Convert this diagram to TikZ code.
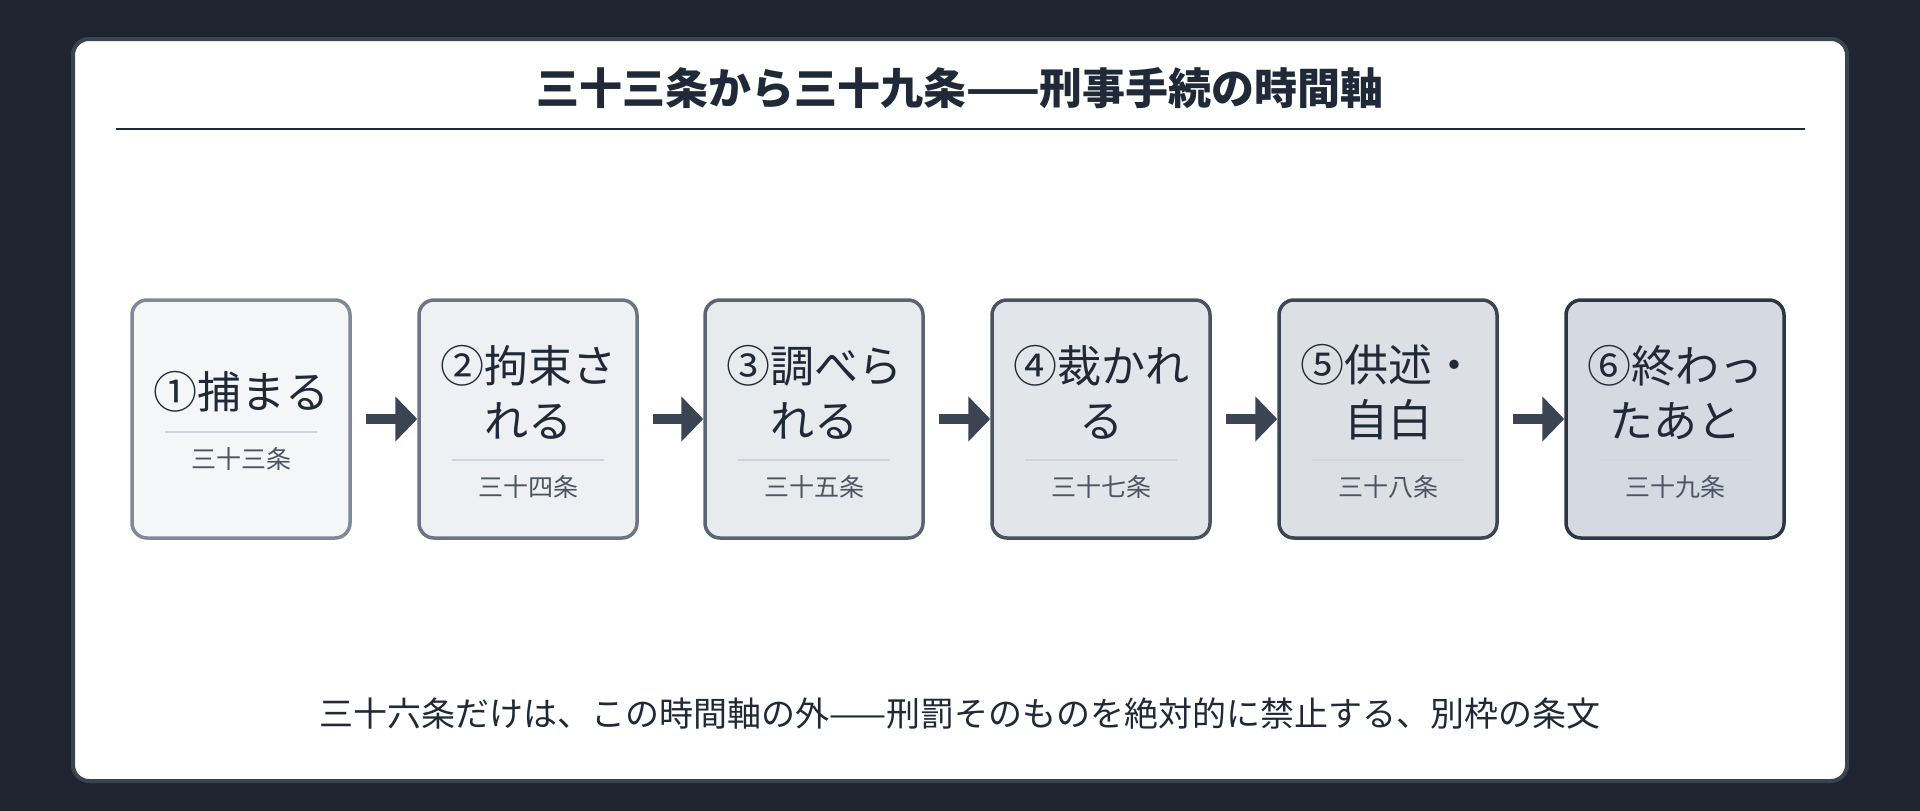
\documentclass[tikz,border=0pt]{standalone}
\usepackage{fontspec}
\setmainfont{Noto Sans CJK JP}
\usetikzlibrary{positioning,arrows.meta}
\definecolor{bgdark}{HTML}{1E2530}
\definecolor{cardedge}{HTML}{3A4350}
\definecolor{ink}{HTML}{1F2937}
\definecolor{subink}{HTML}{4B5563}
\definecolor{rulegray}{HTML}{D1D5DB}
\definecolor{arrowcol}{HTML}{3B4452}
\tikzset{
  stagebox/.style={draw, line width=3.5pt, rounded corners=15pt, minimum width=218pt, minimum height=238pt, inner sep=0pt},
  stagetitle/.style={font=\fontsize{44}{55}\selectfont, text=ink, align=center, inner sep=0pt},
  stagelabel/.style={font=\fontsize{25}{30}\selectfont, text=subink, inner sep=0pt},
  flow/.style={arrowcol, line width=10pt, -{Triangle[length=22pt,width=44pt]}},
}
\begin{document}
\begin{tikzpicture}[x=1pt,y=-1pt]
  %% background and card
  \fill[bgdark] (0,0) rectangle (1920,811);
  \useasboundingbox (0,0) rectangle (1920,811);
  \draw[cardedge, fill=white, line width=4pt, rounded corners=16pt] (73,39) rectangle (1847,781);
  \node[font=\bfseries\fontsize{43}{50}\selectfont, text=ink] (title) at (960,88) {三十三条から三十九条——刑事手続の時間軸};
  \draw[ink, line width=2pt] (116,129) -- (1805,129);
  %% stages
  \foreach \i/\x/\txt/\art/\sep/\fillc/\edge in {
      1/241/{①捕まる}/三十三条/432/F5F6F8/7F8A99,
      2/528/{②拘束さ\\れる}/三十四条/460/EEF0F3/6B7583,
      3/814/{③調べら\\れる}/三十五条/460/E8EBEE/5A6472,
      4/1101/{④裁かれ\\る}/三十七条/460/E2E5E9/4A5361,
      5/1388/{⑤供述・\\自白}/三十八条/460/DCE0E5/3C4553,
      6/1675/{⑥終わっ\\たあと}/三十九条/460/D5DAE2/2E3645} {
    \definecolor{fc}{HTML}{\fillc}
    \definecolor{ec}{HTML}{\edge}
    \node[stagebox, fill=fc, draw=ec] (b\i) at (\x,419) {};
    \node[stagetitle] (t\i) at (\x,392) {\txt};
    \draw[rulegray, line width=2pt] (\x-76,\sep) -- (\x+76,\sep);
    \node[stagelabel] (a\i) at (\x,\sep+27) {\art};
  }
  %% arrows
  \foreach \i [evaluate=\i as \j using int(\i+1)] in {1,...,5}
    \draw[flow] ([xshift=14pt]b\i.east) -- (b\j.west);
  %% note
  \node[font=\fontsize{34}{40}\selectfont, text=ink] (note) at (960,714) {三十六条だけは、この時間軸の外——刑罰そのものを絶対的に禁止する、別枠の条文};
\end{tikzpicture}
\end{document}
